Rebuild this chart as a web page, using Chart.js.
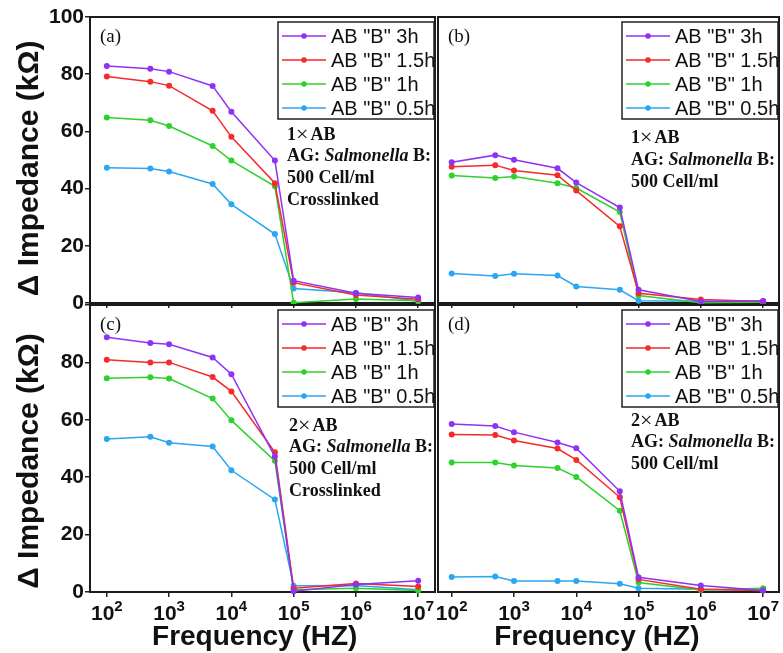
<!DOCTYPE html>
<html>
<head>
<meta charset="utf-8">
<title>Δ Impedance vs Frequency</title>
<script src="https://cdn.jsdelivr.net/npm/chart.js@4.4.0/dist/chart.umd.min.js"></script>
<style>
    html, body { margin: 0; padding: 0; background: #fff; }
    .wrap { position: relative; width: 783px; height: 653px; overflow: hidden; }
    .wrap canvas { position: absolute; left: 0; top: 0; }
</style>
</head>
<body>
<div class="wrap">
    <canvas id="panelA" width="783" height="653"></canvas>
    <canvas id="panelB" width="783" height="653"></canvas>
    <canvas id="panelC" width="783" height="653"></canvas>
    <canvas id="panelD" width="783" height="653"></canvas>
</div>
<script>
// frequencies (Hz) where impedance was measured
const frequencies = [1e2, 5e2, 1e3, 5e3, 1e4, 5e4, 1e5, 1e6, 1e7];
const xTickValues = [1e2, 1e3, 1e4, 1e5, 1e6, 1e7];
const seriesLabels = ['AB "B" 3h', 'AB "B" 1.5h', 'AB "B" 1h', 'AB "B" 0.5h'];
const seriesColors = ["#8f32f5", "#f52a2a", "#2ed12e", "#2aa6f2"];

// (a) 1xAB, crosslinked
const a3h = [82.9, 81.9, 80.9, 75.9, 66.9, 49.8, 7.8, 3.4, 1.9];
const a15h = [79.2, 77.4, 76.0, 67.2, 58.1, 41.9, 7.1, 2.8, 1.3];
const a1h = [64.9, 63.9, 61.9, 54.9, 49.8, 40.8, 0.1, 1.4, 0.8];
const a05h = [47.3, 47.0, 46.0, 41.6, 34.5, 24.1, 5.1, 3.6, 0.6];

// (b) 1xAB
const b3h = [49.2, 51.7, 50.1, 47.1, 42.1, 33.4, 4.6, 0.5, 0.7];
const b15h = [47.6, 48.2, 46.3, 44.7, 39.3, 26.8, 3.4, 1.2, 0.5];
const b1h = [44.6, 43.7, 44.2, 41.9, 40.2, 31.8, 2.6, 0.1, 0.3];
const b05h = [10.3, 9.4, 10.2, 9.6, 5.8, 4.6, 0.8, 0.6, 0.6];

// (c) 2xAB, crosslinked
const c3h = [88.8, 86.8, 86.3, 81.7, 75.9, 47.2, 0.3, 2.6, 3.9];
const c15h = [80.9, 80.0, 80.0, 74.9, 69.9, 48.7, 1.3, 3.0, 1.9];
const c1h = [74.5, 74.8, 74.4, 67.4, 59.8, 45.7, 0.8, 1.3, 0.5];
const c05h = [53.3, 54.1, 52.0, 50.7, 42.4, 32.2, 2.2, 2.3, 0.8];

// (d) 2xAB
const d3h = [58.5, 57.8, 55.7, 52.1, 50.1, 35.1, 5.1, 2.3, 0.5];
const d15h = [54.9, 54.7, 52.8, 50.0, 46.0, 33.0, 4.4, 1.0, 0.5];
const d1h = [45.1, 45.1, 44.1, 43.2, 40.1, 28.3, 3.3, 0.7, 1.3];
const d05h = [5.2, 5.4, 3.8, 3.8, 3.8, 2.9, 1.3, 1.0, 0.5];

const W = 783, H = 653;
const SANS = '"Liberation Sans", Arial, sans-serif';
const SERIF = '"Liberation Serif", "Times New Roman", serif';

// box around the plot area, drawn under the lines
const framePlugin = {
    id: "frame",
    beforeDatasetsDraw(chart) {
        const { ctx, chartArea: a } = chart;
        ctx.save();
        ctx.strokeStyle = "#1c1c1c";
        ctx.lineWidth = 2;
        ctx.strokeRect(a.left, a.top, a.right - a.left, a.bottom - a.top);
        ctx.restore();
    }
};

// boxed legend in the top right corner of the plot
const boxLegendPlugin = {
    id: "boxLegend",
    afterDraw(chart) {
        const { ctx, chartArea: a } = chart;
        const w = 156, h = 97;
        const x = a.right - 1 - w, y = a.top + 5;
        ctx.save();
        ctx.fillStyle = "#fff";
        ctx.fillRect(x, y, w, h);
        ctx.strokeStyle = "#222";
        ctx.lineWidth = 1.5;
        ctx.strokeRect(x, y, w, h);
        ctx.font = "20px " + SANS;
        ctx.textBaseline = "middle";
        chart.data.datasets.forEach(function (ds, i) {
            const cy = y + 14 + i * 24;
            ctx.strokeStyle = ds.borderColor;
            ctx.lineWidth = 1.5;
            ctx.beginPath();
            ctx.moveTo(x + 4, cy);
            ctx.lineTo(x + 48, cy);
            ctx.stroke();
            ctx.fillStyle = ds.borderColor;
            ctx.beginPath();
            ctx.arc(x + 26, cy, 2.8, 0, Math.PI * 2);
            ctx.fill();
            ctx.fillStyle = "#111";
            ctx.fillText(ds.label, x + 53, cy + 1);
        });
        ctx.restore();
    }
};

// panel letter and the sample description
const notesPlugin = {
    id: "notes",
    afterDraw(chart, args, opts) {
        const { ctx, chartArea: a } = chart;
        const fonts = {
            b: "bold 18px " + SERIF,
            bi: "italic bold 18px " + SERIF,
            x: "22px " + SERIF
        };
        ctx.save();
        ctx.fillStyle = "#111";
        ctx.textBaseline = "middle";
        ctx.font = "19px " + SERIF;
        ctx.fillText(opts.tag, a.left + 10, a.top + 20);
        opts.lines.forEach(function (line, i) {
            let x = a.left + opts.dx;
            const y = a.top + opts.dy + i * opts.gap;
            line.forEach(function (seg) {
                ctx.font = fonts[seg[1]];
                ctx.fillText(seg[0], x, y);
                x += ctx.measureText(seg[0]).width + (seg[1] === "x" ? 2 : 0);
            });
        });
        ctx.restore();
    }
};

// 10^n tick labels under the x axis
const powerTicksPlugin = {
    id: "powerTicks",
    afterDraw(chart, args, opts) {
        if (!opts.show) return;
        const { ctx, chartArea: a } = chart;
        const xs = chart.scales.x;
        ctx.save();
        ctx.fillStyle = "#111";
        ctx.textBaseline = "alphabetic";
        xTickValues.forEach(function (v) {
            const exp = String(Math.round(Math.log10(v)));
            ctx.font = "bold 21px " + SANS;
            const w1 = ctx.measureText("10").width;
            ctx.font = "bold 15px " + SANS;
            const w2 = ctx.measureText(exp).width;
            const left = xs.getPixelForValue(v) - (w1 + w2) / 2;
            const base = a.bottom + 28;
            ctx.font = "bold 21px " + SANS;
            ctx.fillText("10", left, base);
            ctx.font = "bold 15px " + SANS;
            ctx.fillText(exp, left + w1, base - 9);
        });
        ctx.restore();
    }
};

const note1x = [[["1", "b"], ["×", "x"], ["AB", "b"]], [["AG: ", "b"], ["Salmonella", "bi"], [" B:", "b"]], [["500 Cell/ml", "b"]]];
const note2x = [[["2", "b"], ["×", "x"], ["AB", "b"]], [["AG: ", "b"], ["Salmonella", "bi"], [" B:", "b"]], [["500 Cell/ml", "b"]]];

function makePanel(canvasId, p) {
    const xHeight = p.xLabels ? H - p.area.bottom : 6;
    // first dataset (3h) ends up drawn on top
    const datasets = p.series.map(function (values, i) {
        return {
            label: seriesLabels[i],
            data: values.map(function (v, j) { return { x: frequencies[j], y: v }; }),
            borderColor: seriesColors[i],
            backgroundColor: seriesColors[i],
            borderWidth: 1.5,
            pointRadius: 3,
            pointBorderWidth: 0,
            pointBackgroundColor: seriesColors[i],
            tension: 0,
            clip: false
        };
    });

    new Chart(document.getElementById(canvasId), {
        type: "line",
        data: { datasets: datasets },
        options: {
            responsive: false,
            animation: false,
            events: [],
            layout: {
                padding: {
                    left: p.yLabels ? 0 : p.area.left,
                    top: p.area.top,
                    right: W - p.area.right,
                    bottom: H - p.area.bottom - xHeight
                }
            },
            scales: {
                x: {
                    type: "logarithmic",
                    min: p.xMin,
                    max: p.xMax,
                    afterBuildTicks: function (scale) {
                        scale.ticks = xTickValues.map(function (v) { return { value: v }; });
                    },
                    afterFit: function (scale) {
                        scale.height = xHeight;
                        scale.paddingLeft = 0;
                        scale.paddingRight = 0;
                    },
                    ticks: { display: false },
                    grid: { drawOnChartArea: false, drawTicks: true, tickLength: 5, color: "#222", lineWidth: 1.5 },
                    border: { display: false },
                    title: {
                        display: p.xLabels,
                        text: p.xTitle,
                        color: "#111",
                        font: { family: SANS, size: 28, weight: "bold", lineHeight: 1 },
                        padding: { top: 0, bottom: 2 }
                    }
                },
                y: {
                    display: p.yLabels,
                    min: 0,
                    max: 100,
                    afterFit: function (scale) {
                        if (p.yLabels) scale.width = p.area.left;
                    },
                    ticks: {
                        stepSize: 20,
                        padding: 1,
                        color: "#111",
                        font: { family: SANS, size: 21, weight: "bold" },
                        callback: function (v) { return v > p.yTop ? "" : String(v); }
                    },
                    grid: { drawOnChartArea: false, drawTicks: true, tickLength: 5, color: "#222", lineWidth: 1.5 },
                    border: { display: false },
                    title: {
                        display: p.yLabels,
                        text: p.yTitle,
                        color: "#111",
                        font: { family: SANS, size: 30, weight: "bold", lineHeight: 1 },
                        padding: { top: 15, bottom: 0 }
                    }
                }
            },
            plugins: {
                legend: { display: false },
                tooltip: { enabled: false },
                notes: p.notes,
                powerTicks: { show: p.xLabels }
            }
        },
        plugins: [framePlugin, boxLegendPlugin, notesPlugin, powerTicksPlugin]
    });
}

document.addEventListener("DOMContentLoaded", function () {
    const leftX = { xMin: Math.pow(10, 1.73), xMax: Math.pow(10, 7.27) };
    const rightX = { xMin: Math.pow(10, 1.78), xMax: Math.pow(10, 7.255) };

    makePanel("panelA", Object.assign({
        area: { left: 90, top: 17, right: 435, bottom: 303 },
        series: [a3h, a15h, a1h, a05h],
        yLabels: true, xLabels: false, yTop: 100,
        yTitle: "Δ Impedance (kΩ)  ", xTitle: "",
        notes: { tag: "(a)", dx: 197, dy: 118, gap: 21.7, lines: note1x.concat([[["Crosslinked", "b"]]]) }
    }, leftX));

    makePanel("panelB", Object.assign({
        area: { left: 438, top: 17, right: 780, bottom: 303 },
        series: [b3h, b15h, b1h, b05h],
        yLabels: false, xLabels: false, yTop: 100,
        yTitle: "", xTitle: "",
        notes: { tag: "(b)", dx: 193, dy: 121, gap: 22, lines: note1x }
    }, rightX));

    makePanel("panelC", Object.assign({
        area: { left: 90, top: 305, right: 435, bottom: 592 },
        series: [c3h, c15h, c1h, c05h],
        yLabels: true, xLabels: true, yTop: 80,
        yTitle: "Δ Impedance (kΩ)   ", xTitle: "Frequency (HZ)  ",
        notes: { tag: "(c)", dx: 199, dy: 121, gap: 21.7, lines: note2x.concat([[["Crosslinked", "b"]]]) }
    }, leftX));

    makePanel("panelD", Object.assign({
        area: { left: 438, top: 305, right: 780, bottom: 592 },
        series: [d3h, d15h, d1h, d05h],
        yLabels: false, xLabels: true, yTop: 80,
        yTitle: "", xTitle: "Frequency (HZ)   ",
        notes: { tag: "(d)", dx: 193, dy: 116, gap: 21.5, lines: note2x }
    }, rightX));
});
</script>
</body>
</html>
